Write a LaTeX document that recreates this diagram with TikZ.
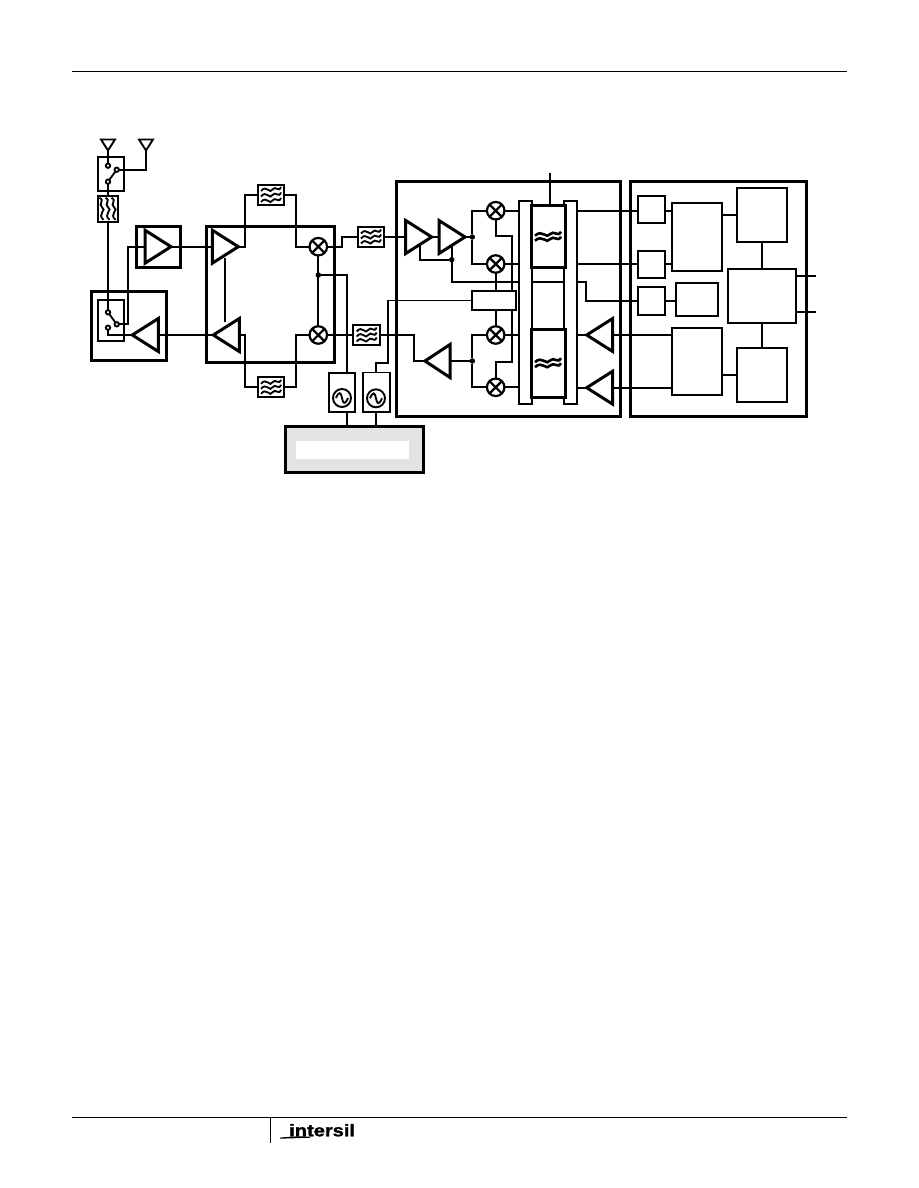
\documentclass[tikz,border=0pt]{standalone}
\usepackage{fontspec}
\setsansfont{Liberation Sans}
\newfontfamily\logofont[FakeBold=1.5]{Liberation Sans Bold}
\usetikzlibrary{shapes.geometric,backgrounds}
\pgfdeclarelayer{back}
\pgfsetlayers{background,back,main}
\tikzset{
  x=1pt,y=-1pt,
  thinl/.style={line width=1.85pt},
  thickl/.style={line width=3pt},
  conn/.style={thinl,line join=miter},
  blk/.style={draw,thinl,fill=white,inner sep=0pt,outer sep=0pt},
  hollow/.style={draw,thinl,inner sep=0pt,outer sep=0pt},
  heavy/.style={draw,thickl,inner sep=0pt,outer sep=0pt},
  heavyw/.style={draw,thickl,fill=white,inner sep=0pt,outer sep=0pt},
  amp/.style={isosceles triangle,isosceles triangle stretches,draw,thickl,fill=white,inner sep=0pt,outer sep=0pt,minimum height=32pt,minimum width=26pt,miter limit=3},
  ampR/.style={amp,shape border rotate=0,anchor=apex},
  ampL/.style={amp,shape border rotate=180,anchor=apex},
  ant/.style={isosceles triangle,isosceles triangle stretches,draw,thinl,fill=white,inner sep=0pt,outer sep=0pt,shape border rotate=-90,minimum height=11pt,minimum width=14pt,anchor=apex},
  mixer/.style={circle,draw,line width=2.2pt,fill=white,minimum size=17.5pt,inner sep=0pt,outer sep=0pt},
  lo/.style={circle,draw,line width=1.9pt,fill=white,minimum size=18pt,inner sep=0pt,outer sep=0pt},
  dotn/.style={circle,fill=black,minimum size=5.5pt,inner sep=0pt,outer sep=0pt},
  contact/.style={circle,draw,thinl,fill=white,minimum size=4.4pt,inner sep=0pt,outer sep=0pt},
}
\newcommand{\bx}[6]{\node[#6,minimum width={(#4)-(#2)},minimum height={(#5)-(#3)}] (#1) at ({((#2)+(#4))/2},{((#3)+(#5))/2}) {};}
\newcommand{\wv}[5][thinl]{%
  \begin{scope}[shift={(#2)}]\draw[#1] ({#3-#5},{#4+1.5}) .. controls ({#3-#5*0.45},{#4-5.5}) and ({#3-#5*0.1},{#4+5.5}) .. ({#3+#5*0.15},{#4}) .. controls ({#3+#5*0.45},{#4-4.5}) and ({#3+#5*0.75},{#4+3.5}) .. ({#3+#5},{#4-2.5});\end{scope}}
\newcommand{\vw}[4]{%
  \begin{scope}[shift={(#1)},rotate=90]\draw[thinl] ({#3-#4},{-#2+1.5}) .. controls ({#3-#4*0.45},{-#2-5.5}) and ({#3-#4*0.1},{-#2+5.5}) .. ({#3+#4*0.15},{-#2}) .. controls ({#3+#4*0.45},{-#2-4.5}) and ({#3+#4*0.75},{-#2+3.5}) .. ({#3+#4},{-#2-2.5});\end{scope}}
\newcommand{\crossx}[1]{\draw[line width=2.2pt] (#1.45) -- (#1.225) (#1.135) -- (#1.315);}
\newcommand{\sine}[1]{\draw[thinl] ([xshift=-6pt]#1.center) .. controls ([shift={(-3,-7)}]#1.center) and ([shift={(-1,-6)}]#1.center) .. (#1.center) .. controls ([shift={(1,6)}]#1.center) and ([shift={(3,7)}]#1.center) .. ([xshift=6pt]#1.center);}
\begin{document}
\begin{tikzpicture}
\useasboundingbox (0,0) rectangle (918,1188);
\coordinate (hl) at (72,72); \coordinate (hr) at (847,72);
\coordinate (fl) at (72,1117); \coordinate (fr) at (847,1117);
\coordinate (ft) at (270,1117); \coordinate (fb) at (270,1143);
\draw[line width=1pt] (hl) -- (hr);
\draw[line width=1pt] (fl) -- (fr);
\draw[line width=1pt] (ft) -- (fb);
\node[inner sep=0pt,anchor=base west,xscale=1.18] (logo) at (289,1136.3) {\fontsize{17}{17}\logofont intersil};
\fill (280,1137.6) .. controls (295,1136) and (300,1136.4) .. (310,1136.6) -- (310,1137.8) .. controls (300,1137.8) and (295,1138.4) .. (280,1138.6) -- cycle;

\bx{frA}{91}{291.3}{166.7}{360.7}{heavy}
\bx{pabox}{136}{226}{180}{267.3}{heavy}
\bx{frB}{206.7}{226}{334.3}{362.3}{heavy}
\bx{frC}{396}{181}{620.7}{416.7}{heavy}
\bx{frD}{630}{181}{806}{416.7}{heavy}
\bx{grey}{285}{426.7}{423}{472.7}{heavy,fill=black!11}
\bx{greyin}{296}{441}{409}{459}{fill=white,inner sep=0pt,draw=none}
\node[ant] (an1) at (108,150.5) {};
\node[ant] (an2) at (146,150.5) {};
\bx{sw1}{97.7}{156.7}{124.3}{191}{hollow}
\node[contact] (c1a) at (108,165.7) {};
\node[contact] (c1b) at (116.7,169.7) {};
\node[contact] (c1c) at (108,181.7) {};
\bx{fv}{97.7}{195.7}{118.3}{222}{blk}
\vw{fv.center}{-6}{0}{11}\vw{fv.center}{0}{0}{11}\vw{fv.center}{6}{0}{11}
\bx{sw2}{97.7}{300}{124.3}{341}{hollow}
\node[contact] (c2a) at (108,312.3) {};
\node[contact] (c2b) at (116.7,324.3) {};
\node[contact] (c2c) at (108,327.7) {};
\node[ampL,minimum height=26pt,minimum width=33pt] (txd) at (132.3,335) {};
\node[ampR,minimum height=26pt,minimum width=33pt] (pa) at (171,246.7) {};
\node[ampR,minimum height=26pt,minimum width=33pt] (up) at (238.3,246.7) {};
\node[ampL,minimum height=26pt,minimum width=33pt] (dn) at (213.3,335) {};
\bx{frf1}{257.7}{184.7}{284.3}{205.3}{blk}
\wv{frf1.center}{0}{-5.5}{10}\wv{frf1.center}{0}{0}{10}\wv{frf1.center}{0}{5.5}{10}
\bx{frf2}{257.7}{377.3}{284.3}{397.3}{blk}
\wv{frf2.center}{0}{-5}{10}\wv{frf2.center}{0}{0}{10}\wv{frf2.center}{0}{5}{10}
\node[mixer] (m1) at (318.3,246.7) {}; \crossx{m1}
\node[mixer] (m2) at (318.3,335) {}; \crossx{m2}
\node[dotn] (d1) at (318.3,275) {};
\bx{fi1}{357.7}{227.3}{384.3}{246.7}{blk}
\wv{fi1.center}{0}{-5}{10}\wv{fi1.center}{0}{0}{10}\wv{fi1.center}{0}{5}{10}
\bx{fi2}{353.3}{325}{380}{345}{blk}
\wv{fi2.center}{0}{-5}{10}\wv{fi2.center}{0}{0}{10}\wv{fi2.center}{0}{5}{10}
\bx{lo1}{328.7}{372.7}{355.3}{412}{blk}
\node[lo] (o1) at (342,398) {}; \sine{o1}
\bx{lo2}{362.7}{372.5}{390}{411.7}{blk}
\node[lo] (o2) at (376,398.3) {}; \sine{o2}
\node[ampR,minimum height=26pt,minimum width=33pt] (a1) at (431.7,237) {};
\node[ampR,minimum height=26pt,minimum width=33pt] (a2) at (465,237) {};
\node[ampL,minimum height=25pt,minimum width=33pt] (a3) at (425,361) {};
\node[dotn] (d2) at (472.3,237) {};
\node[dotn] (d3) at (472.3,361) {};
\node[dotn] (d4) at (451.7,259.7) {};
\node[mixer] (q1) at (495.7,210.7) {}; \crossx{q1}
\node[mixer] (q2) at (495.7,264) {}; \crossx{q2}
\node[mixer] (q3) at (495.7,335) {}; \crossx{q3}
\node[mixer] (q4) at (495.7,387.3) {}; \crossx{q4}
\bx{osc}{471.7}{291}{515.7}{310}{blk}
\bx{bar1}{519}{200.7}{532.3}{404.3}{blk}
\bx{bar2}{564.3}{200.7}{577.3}{404.3}{blk}
\bx{lp1}{531}{205.7}{565}{267.7}{heavyw}
\wv[line width=2.6pt]{lp1.center}{0}{-2.5}{13}\wv[line width=2.6pt]{lp1.center}{0}{2.5}{13}
\bx{lp2}{531}{329}{565}{397.3}{heavyw}
\wv[line width=2.6pt]{lp2.center}{0}{-2.5}{13}\wv[line width=2.6pt]{lp2.center}{0}{2.5}{13}
\node[ampL,minimum height=26pt,minimum width=33pt] (a4) at (586.7,335) {};
\node[ampL,minimum height=26pt,minimum width=33pt] (a5) at (586.7,387.7) {};
\bx{s1}{637.7}{195.7}{665.3}{223.3}{blk}
\bx{s2}{637.7}{250.7}{665.3}{278.3}{blk}
\bx{s3}{637.7}{287.3}{665.3}{315}{blk}
\bx{adc}{671.7}{203.3}{722.3}{271}{blk}
\bx{rc}{676}{282.7}{718.3}{316}{blk}
\bx{dac}{671.7}{327.7}{722.3}{395}{blk}
\bx{tr}{736.7}{187.7}{787.3}{242}{blk}
\bx{br}{736.7}{347.7}{787.3}{402}{blk}
\bx{ctr}{727.7}{268.7}{796}{323}{blk}
\coordinate (top) at (550,173.3);
\coordinate (o1r) at (816,275.7);
\coordinate (o2r) at (816,311.7);
\coordinate (b1) at (128.3,246.7);
\coordinate (b2) at (245,195);
\coordinate (b3) at (296,195);
\coordinate (b4) at (245,387.3);
\coordinate (b5) at (296,387.3);
\coordinate (b6) at (341.7,237);
\coordinate (lo1t) at (346.7,372.7);
\coordinate (lo1b) at (346.7,412);
\coordinate (g1) at (346.7,426.7);
\coordinate (g2) at (376,426.7);
\coordinate (b7) at (376,362.7);
\coordinate (b8) at (388.3,362.7);
\coordinate (b9) at (388.3,300.5);
\coordinate (b10) at (414,335);
\coordinate (b11) at (420,244);
\coordinate (b12) at (451.7,282);
\coordinate (b13) at (586,282);
\coordinate (b14) at (586,301.15);
\coordinate (b15) at (495.7,235.7);
\coordinate (b16) at (512.3,235.7);
\coordinate (b17) at (512.3,361.7);
\coordinate (b18) at (495.7,361.7);
\coordinate (y1) at (0,214.7);
\coordinate (y2) at (0,374.7);
\coordinate (v1) at (225,258);
\coordinate (v2) at (225,322);
\begin{pgfonlayer}{back}
\begin{scope}[conn]
\draw (an1.center) -- (c1a);
\draw (c1c) -- (c1b);
\draw (c1b) -| (an2.center);
\draw (c1c) -- (c1c |- fv);
\draw (fv) -- (fv |- c2a);
\draw (c2a) -- (c2b);
\draw (c2b) -| (b1) -- (pa.west |- b1);
\draw (c2c) |- (txd);
\draw (txd) -- (dn);
\draw (pa) -- (up);
\draw (v1) -- (v2);
\draw (up) -| (b2) -- (frf1);
\draw (frf1) -- (b3) |- (m1);
\draw (dn) -| (b4) -- (frf2);
\draw (frf2) -- (b5) |- (m2);
\draw (m1) -- (m2);
\draw (d1) -| (lo1t);
\draw (lo1b) -- (g1);
\draw (lo2.south -| g2) -- (g2);
\draw (m1) -| (b6) -- (fi1);
\draw (m2) -- (fi2);
\draw (lo2.north -| b7) -- (b7) -- (b8) -- (b9) -- (osc);
\draw (fi1) -- (a1);
\draw (a1) -- (a2);
\draw (a2) -- (d2);
\draw (b11) |- (d4);
\draw (a2.center -| d4) -- (b12) -- (b13) -- (b14) -- (s3);
\draw (d2) |- (q1);
\draw (d2) |- (q2);
\draw (fi2) -- (b10) |- (a3);
\draw (a3) -- (d3);
\draw (d3) |- (q3);
\draw (d3) |- (q4);
\draw (q1) -- (b15) -- (b16) -- (b17) -- (b18) -- (q4);
\draw (q2) -- (q2 |- osc);
\draw (q2 |- osc) -- (q3);
\draw (q1) -- (bar1.center |- q1);
\draw (q2) -- (bar1.center |- q2);
\draw (q3) -- (bar1.center |- q3);
\draw (q4) -- (bar1.center |- q4);
\draw (top |- lp1) -- (top);
\draw (bar2.center |- q1) -- (s1 |- q1);
\draw (bar2.center |- q2) -- (s2 |- q2);
\draw (bar2.center |- a4) -- (a4);
\draw (bar2.center |- a5) -- (a5);
\draw (a4) -- (dac.center |- a4);
\draw (a5) -- (dac.center |- a5);
\draw (s1 |- q1) -- (adc.center |- q1);
\draw (s2 |- q2) -- (adc.center |- q2);
\draw (s3) -- (rc.center |- s3);
\draw (adc.center |- y1) -- (tr.center |- y1);
\draw (dac.center |- y2) -- (br.center |- y2);
\draw (tr) -- (tr |- ctr);
\draw (tr |- ctr) -- (tr |- br);
\draw (ctr.center |- o1r) -- (o1r);
\draw (ctr.center |- o2r) -- (o2r);
\end{scope}
\end{pgfonlayer}
\end{tikzpicture}
\end{document}
